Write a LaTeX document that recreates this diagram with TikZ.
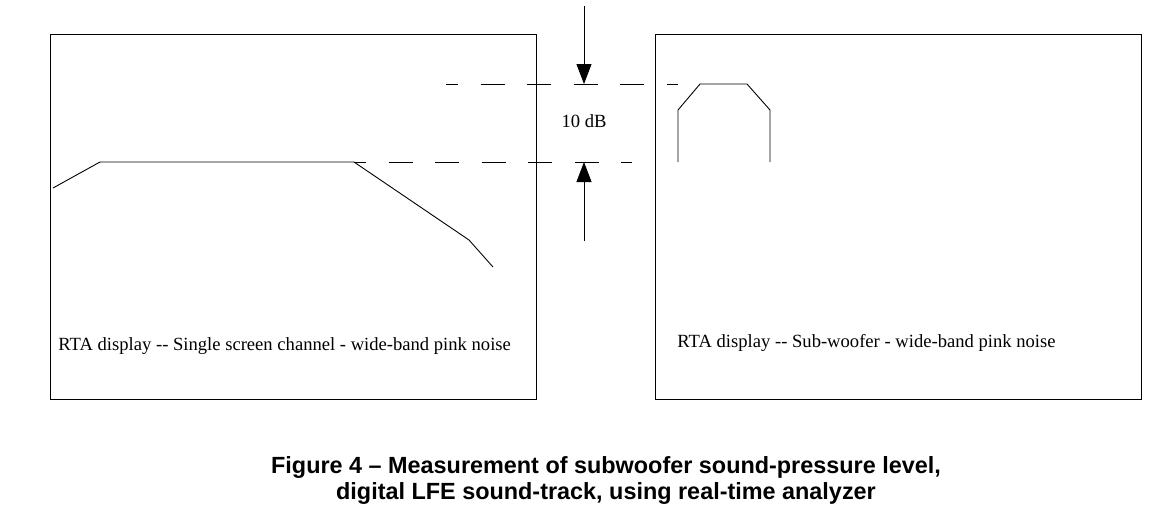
\documentclass[tikz,border=0pt]{standalone}
\usepackage{fontspec}
\setmainfont{Liberation Serif}
\newfontfamily\captionfont{Liberation Sans}
\usetikzlibrary{arrows.meta}
\begin{document}
\begin{tikzpicture}[x=1pt,y=-1pt,line width=0.9pt,
    screen/.style={draw,minimum width=486pt,minimum height=365pt,inner sep=0pt},
    level/.style={dash pattern=on 24pt off 22.5pt,dash phase=12pt},
    marker/.style={-{Triangle[length=20pt,width=15pt]}},
    label/.style={font=\fontsize{18.6}{22}\selectfont,inner sep=0pt}]
    \useasboundingbox (0,0) rectangle (1167,523);
    \node[screen,anchor=north west] (left) at (50,34) {};
    \node[screen,anchor=north west] (right) at (655,34) {};
    % response curves
    \draw (53,188) -- (100,162) -- (354,162) -- (469,240) -- (493,267);
    \draw (678,162) -- (678,110) -- (700,84) -- (747,84) -- (770,110) -- (770,162);
    % reference levels
    \coordinate (hiA) at (446,84);
    \coordinate (hiB) at (678,84);
    \coordinate (loA) at (354,162);
    \coordinate (loB) at (632,162);
    \draw[level] (hiA) -- (hiB);
    \draw[level] (loA) -- (loB);
    \coordinate (topend) at (584,6);
    \coordinate (toptip) at (584,84);
    \coordinate (botend) at (584,241);
    \coordinate (bottip) at (584,162);
    \draw[marker] (topend) -- (toptip);
    \draw[marker] (botend) -- (bottip);
    \node[label] (gap) at (584,121) {10 dB};
    \node[label,anchor=base west] (lefttext) at (58,350)
        {RTA display -{}- Single screen channel - wide-band pink noise};
    \node[label,anchor=base west] (righttext) at (677,347)
        {RTA display -{}- Sub-woofer - wide-band pink noise};
    \node[align=center,inner sep=0pt,font=\captionfont\bfseries\fontsize{23.4}{26}\selectfont]
        (caption) at (606,480)
        {Figure 4 – Measurement of subwoofer sound-pressure level,\\
         digital LFE sound-track, using real-time analyzer};
\end{tikzpicture}
\end{document}
